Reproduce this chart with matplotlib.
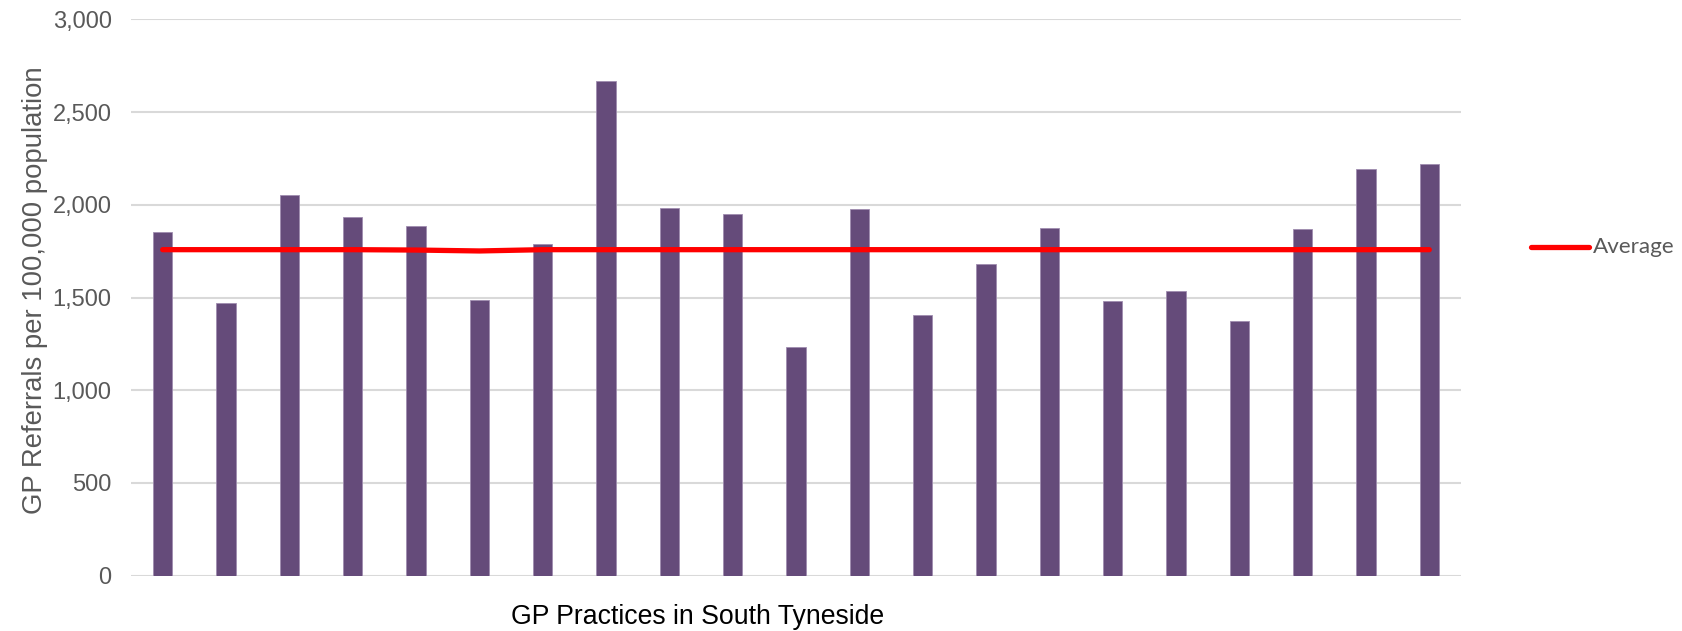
import matplotlib
matplotlib.use('Agg')
import matplotlib.pyplot as plt
from matplotlib.lines import Line2D
from matplotlib.ticker import FuncFormatter

# GP referral rates for each practice and the local average
practices = list(range(1, 22))
referrals = [1851, 1468, 2052, 1933, 1885, 1487, 1788, 2669, 1980, 1950, 1234,
             1978, 1405, 1681, 1876, 1481, 1535, 1375, 1868, 2191, 2220]
average = [1758, 1758, 1758, 1758, 1756, 1751, 1758, 1758, 1758, 1758, 1758,
           1758, 1758, 1758, 1758, 1758, 1758, 1758, 1758, 1758, 1758]

BAR_COLOR = '#654b7a'
GREY = '#595959'


def draw_chart():
    fig = plt.figure(figsize=(16.82, 6.31), dpi=100)
    ax = fig.add_axes([0.0779, 0.0876, 0.7907, 0.8818])

    x = list(range(len(practices)))
    ax.bar(x, referrals, width=0.305, color=BAR_COLOR, edgecolor='#a08db0',
           linewidth=0.6, zorder=2)
    ax.plot(x, average, color='#ff0000', linewidth=3.8,
            solid_capstyle='round', zorder=3)

    ax.set_xlim(-0.5, len(practices) - 0.5)
    ax.set_ylim(0, 3000)
    ax.set_yticks(range(0, 3001, 500))
    ax.yaxis.set_major_formatter(FuncFormatter(lambda v, p: f'{int(v):,}'))
    ax.set_xticks([])

    # grid
    ax.grid(True, axis='y', color='#d9d9d9', linewidth=1.5, zorder=0)
    for side in ['top', 'right', 'left', 'bottom']:
        ax.spines[side].set_visible(False)
    ax.tick_params(axis='y', length=0, pad=14, labelsize=17, labelcolor=GREY)
    for lbl in ax.get_yticklabels():
        lbl.set_fontfamily('Liberation Sans')

    # axis titles
    fig.text(0.021, 0.540, 'GP Referrals per 100,000 population', rotation=90,
             ha='center', va='center', fontsize=19.8, color=GREY,
             family='Liberation Sans')
    fig.text(0.415, 0.022, 'GP Practices in South Tyneside', ha='center',
             va='center', fontsize=19.2, color='black',
             family='Liberation Sans')

    # legend entry for the average line
    fig.add_artist(Line2D([1531 / 1682, 1589 / 1682], [0.609, 0.609],
                          transform=fig.transFigure, color='#ff0000',
                          linewidth=3.8, solid_capstyle='round'))
    fig.text(1593 / 1682, 0.609, 'Average', ha='left', va='center',
             fontsize=16.2, color=GREY, family='Lato')

    fig.savefig('out.png', dpi=100, facecolor='white')


if __name__ == '__main__':
    draw_chart()
